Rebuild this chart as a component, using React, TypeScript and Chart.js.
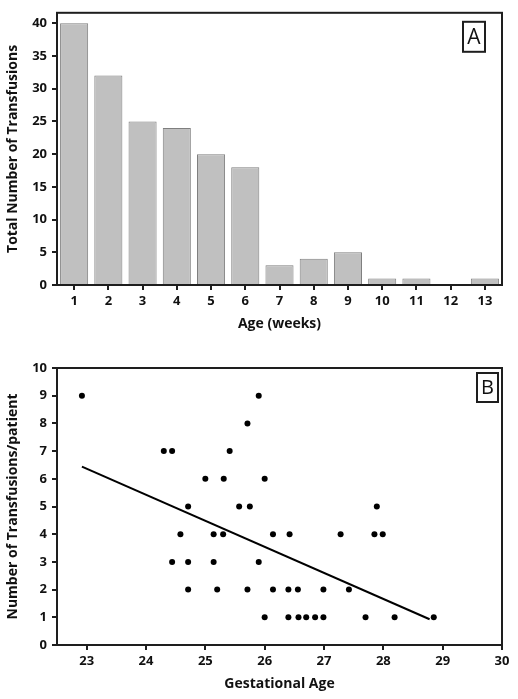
import React, { useEffect, useRef } from "react";
import { Chart, registerables } from "chart.js";
Chart.register(...registerables);

// ---- Panel A data ----
const weeks = ["1", "2", "3", "4", "5", "6", "7", "8", "9", "10", "11", "12", "13"];
const totalTransfusions = [40, 32, 25, 24, 20, 18, 3, 4, 5, 1, 1, 0, 1];
const barYTicks = [0, 5, 10, 15, 20, 25, 30, 35, 40];

// ---- Panel B data ----
const gestationalAge = [
  22.92, 25.9, 25.71, 24.3, 24.44, 25.41, 25.0, 25.31, 26.0,
  24.71, 25.57, 25.75, 27.89,
  24.58, 25.14, 25.3, 26.14, 26.42, 27.28, 27.85, 27.99,
  24.44, 24.71, 25.14, 25.9,
  24.71, 25.2, 25.71, 26.14, 26.4, 26.56, 26.99, 27.42,
  26.0, 26.4, 26.57, 26.7, 26.85, 26.99, 27.7, 28.19, 28.85,
];
const transfusionsPerPatient = [
  9, 9, 8, 7, 7, 7, 6, 6, 6,
  5, 5, 5, 5,
  4, 4, 4, 4, 4, 4, 4, 4,
  3, 3, 3, 3,
  2, 2, 2, 2, 2, 2, 2, 2,
  1, 1, 1, 1, 1, 1, 1, 1, 1,
];
const fitAge = [22.92, 28.78];
const fitTransfusions = [6.44, 0.93];
const scatterXTicks = [23, 24, 25, 26, 27, 28, 29, 30];
const scatterYTicks = [0, 1, 2, 3, 4, 5, 6, 7, 8, 9, 10];

const FONT = "'Open Sans', sans-serif";
const INK = "#1e1e1e";

const framePlugin = {
  id: "frame",
  afterDraw(chart: any, _args: any, opts: any) {
    const { ctx, chartArea } = chart;
    const { left, top, right, bottom } = chartArea;
    ctx.save();
    ctx.strokeStyle = INK;
    ctx.lineWidth = 2;
    ctx.strokeRect(left, top, right - left, bottom - top);
    const bx = right - opts.dx;
    const by = top + opts.dy;
    ctx.strokeRect(bx, by, opts.w, opts.h);
    ctx.fillStyle = "#111";
    ctx.font = `${opts.size}px ${FONT}`;
    ctx.textAlign = "center";
    ctx.textBaseline = "middle";
    ctx.fillText(opts.label, bx + opts.w / 2, by + opts.h / 2 + 1);
    ctx.restore();
  },
};

const axisGrid = {
  display: true,
  drawOnChartArea: false,
  drawTicks: true,
  tickLength: 5,
  color: INK,
  lineWidth: 2,
};
const axisBorder = { display: true, color: INK, width: 2 };
const tickFont = { family: FONT, size: 13, weight: "bold" as const };
const titleFont = { family: FONT, size: 14, weight: "bold" as const };

export default function App() {
  const refA = useRef<HTMLCanvasElement>(null);
  const refB = useRef<HTMLCanvasElement>(null);

  useEffect(() => {
    const chartA = new Chart(refA.current!, {
      type: "bar",
      data: {
        labels: weeks,
        datasets: [
          {
            data: totalTransfusions,
            backgroundColor: "#c0c0c0",
            borderColor: "#7f7f7f",
            borderWidth: 1,
            barPercentage: 0.82,
            categoryPercentage: 1,
          },
        ],
      },
      options: {
        animation: false,
        responsive: false,
        layout: { padding: { top: 4, right: 16, left: 0, bottom: 0 } },
        plugins: {
          legend: { display: false },
          tooltip: { enabled: false },
          frame: { label: "A", dx: 39, dy: 9, w: 22, h: 30, size: 21 },
        } as any,
        scales: {
          x: {
            type: "category",
            offset: true,
            grid: { ...axisGrid, offset: false },
            border: axisBorder,
            ticks: { color: "#111", font: tickFont, padding: 3, maxRotation: 0, autoSkip: false },
            title: { display: true, text: "Age (weeks)", color: "#111", font: titleFont, padding: { top: 0, bottom: 13 } },
            afterFit: (s: any) => { s.height = 60; },
          },
          y: {
            type: "linear",
            min: 0,
            max: 41.6,
            grid: axisGrid,
            border: axisBorder,
            ticks: { color: "#111", font: tickFont, padding: 5 },
            afterBuildTicks: (s: any) => { s.ticks = barYTicks.map((v) => ({ value: v })); },
            title: { display: true, text: "Total Number of Transfusions", color: "#111", font: titleFont, padding: { top: 5, bottom: 0 } },
            afterFit: (s: any) => { s.width = 57; },
          },
        },
      } as any,
      plugins: [framePlugin],
    });

    const chartB = new Chart(refB.current!, {
      type: "scatter",
      data: {
        datasets: [
          {
            data: gestationalAge.map((x, i) => ({ x, y: transfusionsPerPatient[i] })),
            backgroundColor: "#000",
            borderColor: "#000",
            pointRadius: 3,
            borderWidth: 0,
          },
          {
            data: fitAge.map((x, i) => ({ x, y: fitTransfusions[i] })),
            showLine: true,
            borderColor: "#000",
            borderWidth: 2,
            pointRadius: 0,
          } as any,
        ],
      },
      options: {
        animation: false,
        responsive: false,
        layout: { padding: { top: 23, right: 16, left: 0, bottom: 0 } },
        plugins: {
          legend: { display: false },
          tooltip: { enabled: false },
          frame: { label: "B", dx: 25, dy: 5, w: 21, h: 29, size: 20 },
        } as any,
        scales: {
          x: {
            type: "linear",
            min: 22.5,
            max: 30,
            grid: axisGrid,
            border: axisBorder,
            ticks: { color: "#111", font: tickFont, padding: 3 },
            afterBuildTicks: (s: any) => { s.ticks = scatterXTicks.map((v) => ({ value: v })); },
            title: { display: true, text: "Gestational Age", color: "#111", font: titleFont, padding: { top: 0, bottom: 7 } },
            afterFit: (s: any) => { s.height = 54; },
          },
          y: {
            type: "linear",
            min: 0,
            max: 10,
            grid: axisGrid,
            border: axisBorder,
            ticks: { color: "#111", font: tickFont, padding: 5 },
            afterBuildTicks: (s: any) => { s.ticks = scatterYTicks.map((v) => ({ value: v })); },
            title: { display: true, text: "Number of Transfusions/patient", color: "#111", font: titleFont, padding: { top: 5, bottom: 0 } },
            afterFit: (s: any) => { s.width = 57; },
          },
        },
      } as any,
      plugins: [framePlugin],
    });

    return () => {
      chartA.destroy();
      chartB.destroy();
    };
  }, []);

  return (
    <div style={{ position: "absolute", left: 0, top: 0, width: 518, height: 699, background: "#fff" }}>
      <canvas ref={refA} width={518} height={345} style={{ display: "block", width: 518, height: 345 }} />
      <canvas ref={refB} width={518} height={354} style={{ display: "block", width: 518, height: 354 }} />
    </div>
  );
}
